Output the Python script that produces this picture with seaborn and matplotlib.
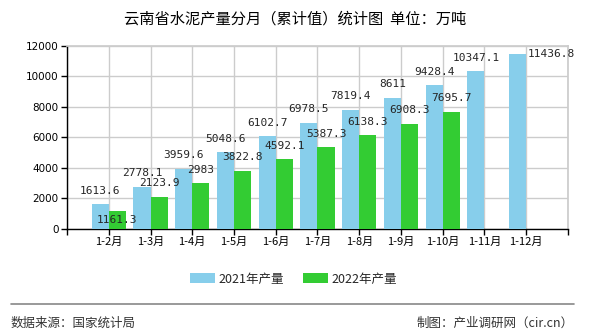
import numpy as np
import pandas as pd
import matplotlib
matplotlib.use("Agg")
import matplotlib.pyplot as plt
import seaborn as sns

categories = ["1-2月", "1-3月", "1-4月", "1-5月", "1-6月", "1-7月", "1-8月",
              "1-9月", "1-10月", "1-11月", "1-12月"]
values_2021 = [1613.6, 2778.1, 3959.6, 5048.6, 6102.7, 6978.5, 7819.4,
               8611, 9428.4, 10347.1, 11436.8]
values_2022 = [1161.3, 2123.9, 2983, 3822.8, 4592.1, 5387.3, 6138.3,
               6908.3, 7695.7, np.nan, np.nan]
label_2021 = ["1613.6", "2778.1", "3959.6", "5048.6", "6102.7", "6978.5", "7819.4",
              "8611", "9428.4", "10347.1", "11436.8"]
label_2022 = ["1161.3", "2123.9", "2983", "3822.8", "4592.1", "5387.3", "6138.3",
              "6908.3", "7695.7", "", ""]
series_names = ["2021年产量", "2022年产量"]
colors = ["#87CEEB", "#33CC33"]
yticks = [0, 2000, 4000, 6000, 8000, 10000, 12000]

sns.set_theme(style="white")
plt.rcParams["font.family"] = ["Noto Sans CJK SC", "DejaVu Sans"]

df = pd.DataFrame({
    "cat": categories * 2,
    "val": values_2021 + values_2022,
    "series": [series_names[0]] * len(categories) + [series_names[1]] * len(categories),
})

fig = plt.figure(figsize=(5.9, 3.3), dpi=100)
ax = fig.add_axes([0.1136, 0.306, 0.849, 0.555])
sns.barplot(data=df, x="cat", y="val", hue="series", order=categories,
            hue_order=series_names, palette=colors, width=0.82, saturation=1,
            gap=0, linewidth=0, edgecolor="none",
            ax=ax, legend=False, zorder=3)

ax.set_xlim(-1, len(categories))
ax.set_ylim(0, 12000)
ax.set_yticks(yticks)
ax.set_yticklabels([str(v) for v in yticks], fontsize=7.5, family="DejaVu Sans")
xt = list(range(-1, len(categories) + 1))
ax.set_xticks(xt)
ax.set_xticklabels([""] + categories + [""], fontsize=8)
ax.set_xlabel("")
ax.set_ylabel("")
ax.grid(True, color="#cccccc", linewidth=1, zorder=0)
ax.set_axisbelow(True)
for s in ["top", "right"]:
    ax.spines[s].set_color("#cccccc")
for s in ["left", "bottom"]:
    ax.spines[s].set_color("black")
    ax.spines[s].set_linewidth(1)
ax.tick_params(axis="both", which="both", direction="out", length=4, width=1,
               color="black", pad=2, left=True, bottom=True, labelcolor="black")

# value labels
bw = 0.41
for i in range(len(categories)):
    v = values_2021[i]
    dx, dy = 0, 9.5
    if i == len(categories) - 1:
        dx, dy = 24, 0
    ax.annotate(label_2021[i], (i - bw / 2, v), xytext=(dx, dy), textcoords="offset points",
                ha="center", va="center", fontsize=8, family="DejaVu Sans Mono", zorder=5)
    v2 = values_2022[i]
    if not np.isnan(v2):
        dy2 = 9.5
        if i == 0:
            dy2 = -6
        ax.annotate(label_2022[i], (i + bw / 2, v2), xytext=(0, dy2), textcoords="offset points",
                    ha="center", va="center", fontsize=8, family="DejaVu Sans Mono", zorder=5)

fig.text(0.5, 1 - 19 / 330, "云南省水泥产量分月（累计值）统计图  单位：万吨",
         ha="center", va="center", fontsize=11, color="black")

# legend
from matplotlib.patches import Patch
handles = [Patch(facecolor=c, edgecolor="none") for c in colors]
fig.legend(handles, series_names, loc="center", bbox_to_anchor=(0.497, 1 - 279 / 330),
           ncol=2, frameon=False, fontsize=9, handlelength=2.0, handleheight=0.8,
           columnspacing=1.5, handletextpad=0.3)

fig.add_artist(plt.Line2D([11 / 590, 574 / 590], [1 - 303.5 / 330] * 2,
                          color="#888888", linewidth=1.2, transform=fig.transFigure))
fig.text(11 / 590, 1 - 323 / 330, "数据来源：国家统计局", ha="left", va="center",
         fontsize=9, color="#333333")
fig.text(574 / 590, 1 - 323 / 330, "制图：产业调研网（cir.cn）", ha="right", va="center",
         fontsize=9, color="#333333")

fig.savefig("out.png", dpi=100)
